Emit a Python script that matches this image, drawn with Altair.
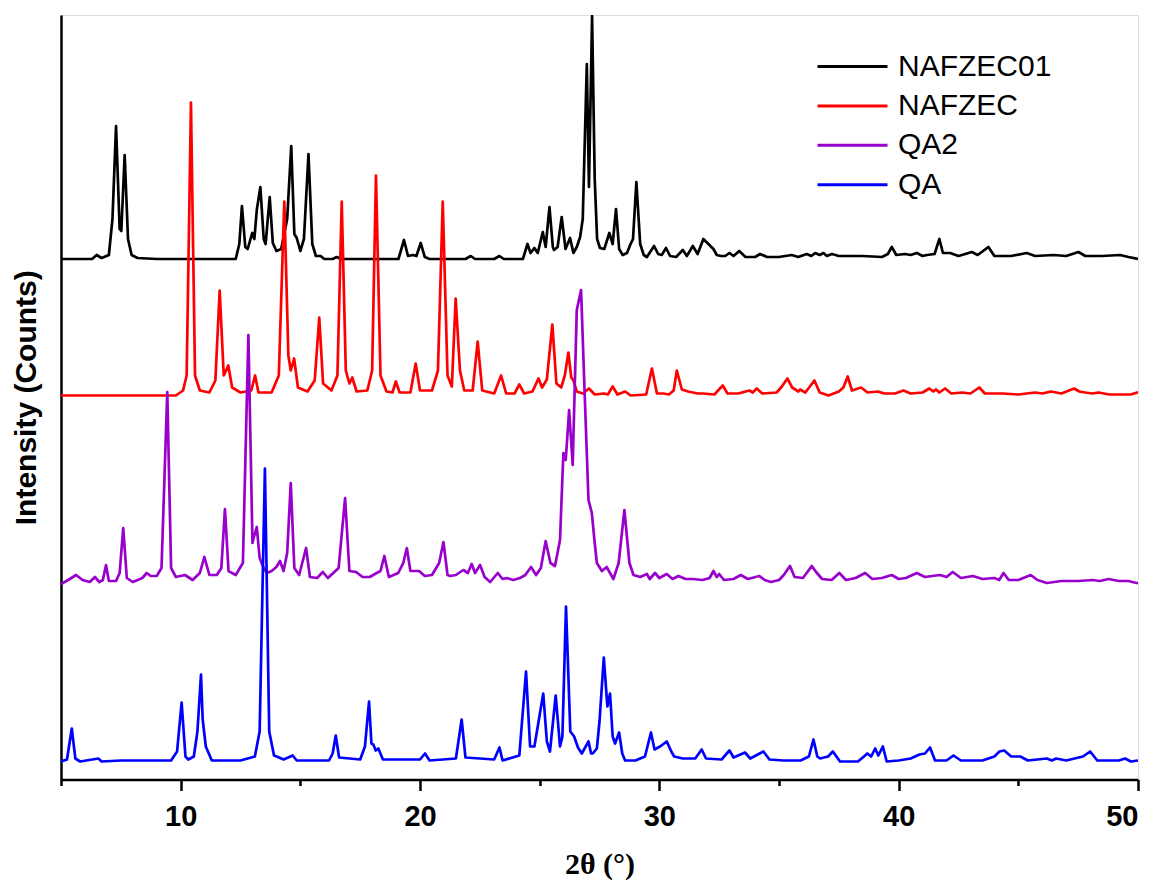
import altair as alt
import pandas as pd

# Series names (legend order) and colours
series_names = ["NAFZEC01", "NAFZEC", "QA2", "QA"]
series_colors = ["#000000", "#ff0000", "#9900cc", "#0000ff"]
# vertical offset of each pattern (stacked plot)
series_offsets = [520.5, 384.0, 196.5, 18.0]

# NAFZEC01: 2theta and intensity (above own baseline)
nafzec01_x = [5.0, 6.3, 6.49, 6.7, 7.0, 7.15, 7.30, 7.45, 7.52, 7.66, 7.80, 7.95, 8.2,
              9.0, 12.3, 12.45, 12.56, 12.70, 12.80, 12.99, 13.08, 13.18, 13.33, 13.47, 13.55,
              13.72, 13.85, 14.0, 14.2, 14.45, 14.62, 14.75, 14.85, 15.0, 15.15, 15.34, 15.5,
              15.65, 15.85, 16.0, 16.35, 16.52, 16.7, 19.1, 19.33, 19.5, 19.70, 19.85, 20.03,
              20.2, 20.4, 21.9, 22.12, 22.3, 23.1, 23.32, 23.5, 24.3, 24.49, 24.62, 24.78,
              24.92, 25.13, 25.25, 25.41, 25.55, 25.60, 25.75, 25.92, 26.08, 26.27, 26.41,
              26.55, 26.69, 26.8, 26.97, 27.06, 27.19, 27.3, 27.4, 27.52, 27.7, 27.91, 28.05,
              28.19, 28.32, 28.47, 28.65, 28.78, 28.9, 29.04, 29.2, 29.35, 29.48, 29.78, 29.95,
              30.1, 30.28, 30.45, 30.7, 30.98, 31.15, 31.40, 31.6, 31.84, 32.05, 32.26, 32.4,
              32.57, 32.75, 32.93, 33.1, 33.34, 33.6, 34.0, 34.21, 34.5, 35.0, 35.53, 35.8,
              36.16, 36.35, 36.51, 36.7, 36.86, 37.0, 37.21, 37.5, 37.97, 38.5, 39.3, 39.55,
              39.71, 39.9, 40.27, 40.5, 40.76, 41.0, 41.18, 41.5, 41.70, 41.85, 42.15, 42.5,
              43.06, 43.3, 43.75, 44.0, 44.7, 45.35, 45.7, 46.47, 47.0, 47.51, 47.8, 48.5,
              49.25, 49.6, 50.0]
nafzec01_y = [0, 0, 4, 1, 4, 40, 133, 30, 28, 104, 20, 4, 1,
              0, 0, 15, 53, 12, 10, 26, 20, 49, 72, 20, 15,
              62, 16, 8, 10, 40, 113, 25, 21, 8, 20, 105, 15,
              3, 3, 0, 0, 2, 0, 0, 19, 3, 4, 3, 16,
              2, 0, 0, 3, 0, 0, 3, 0, 0, 15, 6, 11,
              6, 27, 12, 52, 12, 9, 12, 42, 10, 21, 6,
              12, 22, 40, 195, 72, 243, 80, 20, 11, 10, 26, 15,
              50, 10, 4, 6, 14, 20, 77, 15, 4, 2, 13, 5,
              4, 11, 3, 2, 9, 3, 13, 5, 20, 15, 10, 4,
              3, 3, 6, 3, 8, 2, 2, 5, 2, 2, 4, 2,
              5, 3, 6, 4, 6, 3, 5, 3, 3, 3, 2, 5,
              12, 4, 5, 4, 6, 3, 4, 5, 20, 6, 6, 3,
              7, 4, 12, 3, 3, 6, 3, 4, 3, 7, 3, 3,
              4, 2, 0]

# NAFZEC
nafzec_x = [5.0, 9.8, 10.1, 10.25, 10.43, 10.6, 10.8, 11.2, 11.45, 11.63, 11.8, 11.99,
            12.15, 12.5, 12.95, 13.11, 13.25, 13.8, 14.1, 14.33, 14.5, 14.6, 14.74, 14.9,
            15.3, 15.6, 15.79, 15.95, 16.3, 16.55, 16.73, 16.9, 17.05, 17.17, 17.35, 17.8,
            18.0, 18.16, 18.35, 18.6, 18.85, 18.99, 19.15, 19.6, 19.82, 20.0, 20.5, 20.75,
            20.95, 21.15, 21.33, 21.49, 21.67, 21.85, 22.2, 22.41, 22.6, 23.1, 23.39, 23.6,
            23.95, 24.15, 24.35, 24.7, 24.95, 25.1, 25.30, 25.53, 25.7, 25.9, 26.05, 26.20,
            26.32, 26.41, 26.55, 26.8, 27.06, 27.3, 27.70, 27.85, 28.05, 28.25, 28.57, 28.8,
            29.45, 29.69, 29.9, 30.17, 30.4, 30.6, 30.73, 30.94, 31.2, 31.6, 31.84, 32.3,
            32.65, 32.85, 33.3, 33.76, 33.9, 34.07, 34.3, 34.9, 35.12, 35.35, 35.55, 35.81,
            35.88, 36.1, 36.48, 36.7, 37.07, 37.5, 37.69, 37.87, 38.05, 38.43, 38.7, 39.13,
            39.4, 39.85, 40.20, 40.5, 41.0, 41.28, 41.45, 41.56, 41.7, 41.94, 42.2, 42.64,
            43.0, 43.37, 43.6, 44.35, 45.0, 45.70, 46.0, 46.36, 46.8, 47.33, 47.55, 47.79,
            48.1, 48.35, 48.8, 49.39, 49.7, 49.97, 50.0]
nafzec_y = [0, 0, 5, 20, 293, 20, 5, 3, 15, 105, 20, 30,
            8, 3, 5, 20, 3, 3, 20, 194, 40, 25, 37, 8,
            4, 15, 78, 12, 5, 20, 194, 25, 12, 18, 4, 5,
            25, 220, 20, 4, 3, 14, 3, 3, 32, 5, 5, 25,
            194, 20, 9, 97, 25, 5, 5, 54, 5, 2, 20, 2,
            2, 11, 2, 4, 17, 8, 16, 71, 12, 8, 20, 43,
            18, 15, 4, 2, 7, 1, 2, 1, 9, 1, 4, 0,
            1, 27, 2, 2, 1, 5, 25, 6, 4, 2, 2, 1,
            10, 2, 2, 5, 3, 7, 2, 3, 9, 17, 8, 4,
            6, 3, 15, 3, 0, 4, 8, 19, 5, 8, 3, 4,
            2, 2, 5, 2, 3, 7, 4, 6, 3, 7, 2, 3,
            2, 8, 2, 2, 1, 3, 2, 4, 2, 7, 4, 3,
            2, 3, 1, 1, 1, 3, 3]

# QA2
qa2_x = [5.0, 5.3, 5.63, 5.9, 6.2, 6.42, 6.6, 6.75, 6.88, 7.0, 7.3, 7.45, 7.60, 7.75, 8.0,
         8.4, 8.58, 8.75, 9.0, 9.2, 9.44, 9.6, 9.8, 10.18, 10.5, 10.8, 10.99, 11.2, 11.51,
         11.7, 11.85, 12.0, 12.3, 12.6, 12.83, 13.0, 13.05, 13.18, 13.3, 13.45, 13.6, 13.80,
         14.0, 14.15, 14.3, 14.45, 14.60, 14.75, 14.95, 15.24, 15.4, 15.7, 15.94, 16.15,
         16.6, 16.87, 17.05, 17.33, 17.6, 17.9, 18.19, 18.35, 18.51, 18.7, 19.09, 19.3,
         19.45, 19.6, 19.96, 20.2, 20.5, 20.8, 20.98, 21.15, 21.26, 21.5, 21.81, 22.0,
         22.16, 22.3, 22.51, 22.7, 22.93, 23.25, 23.45, 23.63, 23.9, 24.18, 24.4, 24.64,
         24.85, 25.05, 25.25, 25.45, 25.64, 25.85, 25.99, 26.09, 26.23, 26.38, 26.55,
         26.73, 26.86, 27.04, 27.18, 27.3, 27.39, 27.6, 27.80, 28.08, 28.3, 28.54, 28.75,
         28.92, 29.2, 29.48, 29.6, 29.82, 30.0, 30.31, 30.55, 30.80, 31.1, 31.40, 31.8,
         32.1, 32.26, 32.4, 32.50, 32.7, 33.1, 33.40, 33.7, 34.18, 34.4, 34.66, 35.0,
         35.2, 35.46, 35.65, 36.0, 36.37, 36.55, 36.8, 37.2, 37.52, 37.8, 38.2, 38.60,
         38.9, 39.3, 39.71, 40.0, 40.3, 40.76, 41.1, 41.4, 41.73, 42.0, 42.26, 42.6,
         43.10, 43.5, 44.00, 44.2, 44.38, 44.6, 45.0, 45.52, 45.8, 46.19, 46.8, 47.5,
         48.11, 48.4, 48.77, 49.2, 49.6, 49.93, 50.0]
qa2_y = [-1, 3, 8, 3, 1, 6, 1, 3, 18, 2, 2, 10, 55, 5, 1,
         5, 10, 7, 7, 15, 191, 15, 6, 8, 3, 10, 26, 8, 8,
         15, 74, 12, 8, 20, 248, 40, 45, 56, 25, 16, 10, 12,
         16, 22, 12, 30, 100, 15, 8, 35, 6, 5, 11, 5,
         15, 85, 12, 11, 6, 6, 10, 12, 27, 6, 10, 20,
         35, 12, 12, 7, 8, 20, 41, 8, 7, 8, 13, 10,
         19, 10, 18, 6, 1, 10, 4, 5, 3, 5, 8, 16,
         8, 15, 42, 20, 17, 43, 130, 123, 173, 118, 273,
         293, 203, 83, 70, 40, 20, 12, 16, 4, 20, 73, 20,
         8, 6, 9, 4, 10, 5, 9, 4, 7, 4, 4, 3,
         5, 12, 6, 9, 3, 4, 8, 4, 7, 3, 1, 3,
         8, 17, 6, 5, 17, 11, 4, 3, 10, 3, 5, 10,
         4, 5, 8, 4, 5, 10, 6, 7, 8, 6, 11, 5,
         7, 4, 5, 3, 10, 3, 3, 8, 3, 0, 2, 2,
         3, 2, 4, 2, 2, 0, 0]

# QA
qa_x = [5.0, 5.25, 5.45, 5.6, 5.8, 6.56, 6.7, 7.5, 8.5, 9.6, 9.85, 10.04, 10.2, 10.32,
        10.55, 10.7, 10.85, 10.92, 11.05, 11.3, 12.5, 13.1, 13.3, 13.52, 13.7, 13.9, 14.01,
        14.3, 14.68, 14.85, 16.2, 16.35, 16.48, 16.62, 17.5, 17.7, 17.87, 17.97, 18.05,
        18.15, 18.26, 18.45, 20.0, 20.21, 20.4, 21.5, 21.74, 21.9, 23.1, 23.32, 23.45,
        24.15, 24.43, 24.6, 24.78, 25.15, 25.3, 25.43, 25.67, 25.85, 25.95, 26.10, 26.28,
        26.44, 26.6, 26.76, 27.04, 27.15, 27.22, 27.39, 27.5, 27.68, 27.83, 27.94, 28.05,
        28.15, 28.32, 28.45, 28.57, 29.0, 29.40, 29.65, 29.8, 30.03, 30.31, 30.5, 30.62,
        30.98, 31.5, 31.77, 31.95, 32.6, 32.93, 33.1, 33.58, 33.8, 34.35, 34.6, 35.18,
        35.9, 36.25, 36.44, 36.6, 36.72, 37.05, 37.25, 37.55, 38.3, 38.55, 38.69, 38.85,
        39.02, 39.15, 39.34, 39.50, 40.0, 40.5, 40.87, 41.1, 41.31, 41.52, 42.0, 42.29,
        42.6, 43.5, 44.0, 44.21, 44.41, 44.7, 45.08, 45.4, 46.19, 46.4, 46.58, 47.0, 47.7,
        48.00, 48.3, 49.2, 49.46, 49.7, 50.0]
qa_y = [0, 2, 33, 3, 0, 3, 0, 1, 1, 1, 10, 59, 5, 2,
        5, 30, 87, 42, 15, 1, 1, 5, 30, 293, 30, 6, 5,
        2, 6, 1, 1, 8, 26, 4, 2, 15, 60, 18, 17,
        11, 13, 2, 2, 8, 1, 3, 42, 4, 2, 14, 1,
        6, 90, 15, 15, 68, 20, 10, 66, 15, 25, 155, 30,
        25, 14, 8, 20, 8, 8, 13, 40, 104, 55, 68, 25,
        18, 29, 8, 1, 1, 5, 29, 12, 15, 20, 10, 5,
        3, 3, 12, 3, 2, 11, 4, 9, 3, 10, 2, 1,
        1, 5, 22, 5, 3, 5, 10, 0, 0, 5, 8, 5,
        13, 6, 15, 0, 1, 3, 7, 8, 14, 1, 1, 6,
        1, 1, 5, 10, 11, 5, 5, 1, 3, 1, 3, 1, 5,
        10, 1, 1, 3, 0, 1]

xs = [nafzec01_x, nafzec_x, qa2_x, qa_x]
ys = [nafzec01_y, nafzec_y, qa2_y, qa_y]

frames = []
for i, name in enumerate(series_names):
    assert len(xs[i]) == len(ys[i]), name
    frames.append(pd.DataFrame({
        "two_theta": xs[i],
        "intensity": [v + series_offsets[i] for v in ys[i]],
        "series": name,
        "order": list(range(len(xs[i]))),
    }))
df = pd.concat(frames, ignore_index=True)

x_ticks = [5, 10, 15, 20, 25, 30, 35, 40, 45, 50]

chart = alt.Chart(df).mark_line(strokeWidth=2.7, clip=True, strokeJoin="round").encode(
    x=alt.X("two_theta:Q",
            scale=alt.Scale(domain=[5, 50], nice=False, zero=False),
            axis=alt.Axis(values=x_ticks, title="2θ (°)",
                          labelExpr="datum.value % 10 === 0 ? datum.label : ''",
                          tickSize={"condition": {"test": "datum.value % 10 === 0", "value": 11}, "value": 6},
                          labelFontSize=29, labelFontWeight="bold", labelFont="Liberation Sans",
                          labelColor="black", labelPadding=12,
                          titleFont="Liberation Serif", titleFontSize=30, titleFontWeight="bold",
                          titleColor="black", titlePadding=18,
                          domainColor="black", domainWidth=2.5, tickColor="black", tickWidth=2.5,
                          grid=False)),
    y=alt.Y("intensity:Q",
            scale=alt.Scale(domain=[0, 764.5], nice=False),
            axis=alt.Axis(title="Intensity (Counts)", labels=False, ticks=False, grid=False,
                          titleFont="Liberation Sans", titleFontSize=30, titleFontWeight="bold",
                          titleColor="black", titlePadding=20,
                          domainColor="black", domainWidth=2.5)),
    color=alt.Color("series:N",
                    scale=alt.Scale(domain=series_names, range=series_colors),
                    legend=alt.Legend(title=None, orient="none", legendX=797, legendY=36,
                                      symbolType="M-4,0H1", symbolSize=784, symbolStrokeWidth=3,
                                      labelFont="Liberation Sans", labelFontSize=30, labelColor="black",
                                      labelOffset=9, rowPadding=8.4, padding=0,
                                      labelLimit=400)),
    order="order:Q",
).properties(
    width=1077, height=764.5,
    padding={"left": 61, "top": 15, "right": 19, "bottom": 106.5},
    autosize=alt.AutoSizeParams(type="none"),
).configure_view(stroke=None).configure(background="white")

chart.save("out.html", embed_options={"renderer": "svg", "actions": False})
